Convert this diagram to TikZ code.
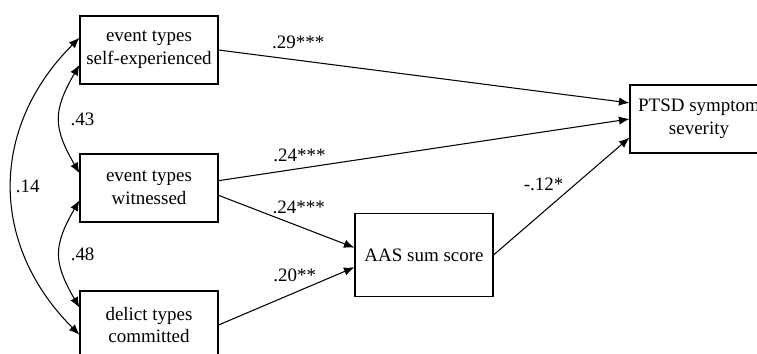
\documentclass[tikz,border=0pt]{standalone}
\usepackage{fontspec}
\setmainfont{Liberation Serif}
\usetikzlibrary{arrows.meta}

\begin{document}
\begin{tikzpicture}[x=0.02cm, y=0.02cm,
  font=\fontsize{10.8}{13}\selectfont,
  >={Latex[length=6pt,width=4.8pt]},
  var/.style={draw, line width=0.6pt, minimum width=2.76cm, minimum height=1.36cm, align=center, inner sep=2pt},
  coef/.style={inner sep=1pt},
  path/.style={->, line width=0.6pt},
  cov/.style={<->, line width=0.6pt}]
\useasboundingbox (0,0) rectangle (757,354);

%observed variables
\node[var] (selfexp) at (149,304) {event types\\self-experienced};
\node[var] (witnessed) at (149,166) {event types\\witnessed};
\node[var] (delict) at (149,29) {delict types\\committed};
\node[var, minimum height=1.66cm] (aas) at (424,99) {AAS sum score};
\node[var] (ptsd) at (699,235) {PTSD symptom\\severity};

%paths
\draw[path] (selfexp.east) -- node[coef, pos=0.194, above=5pt]{.29***} (ptsd.167);
\draw[path] (witnessed.6) -- node[coef, pos=0.197, above=2.7pt]{.24***} (ptsd.west);
\draw[path] (witnessed.-6) -- node[coef, pos=0.59, above=6pt]{.24***} (aas.174);
\draw[path] (delict.east) -- node[coef, pos=0.56, above=5pt]{.20**} (aas.-170);
\draw[path] (aas.east) -- node[coef, pos=0.53, above left=0pt]{-.12*} (ptsd.-165);

%covariances
\draw[cov] (selfexp.170) to[out=225, in=135, looseness=1.1] node[coef, midway, right=1pt]{.14} (delict.-172);
\draw[cov] (selfexp.-168) to[out=240, in=120, looseness=1.26] node[coef, midway, right=5pt]{.43} (witnessed.168);
\draw[cov] (witnessed.-170) to[out=240, in=120, looseness=1.26] node[coef, midway, right=5pt]{.48} (delict.166);

\end{tikzpicture}
\end{document}
